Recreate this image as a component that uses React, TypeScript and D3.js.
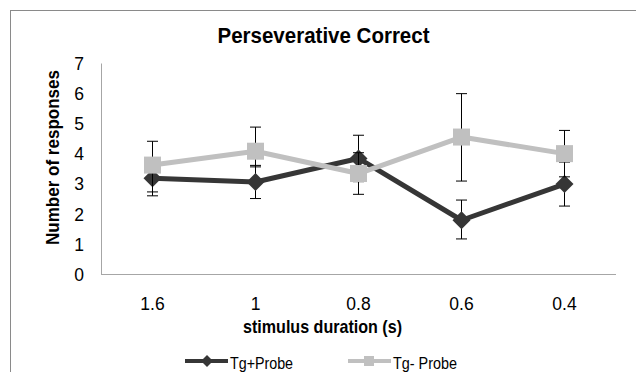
import React from "react";
import * as d3 from "d3";

const categories = ["1.6", "1", "0.8", "0.6", "0.4"];
const yTicks = [0, 1, 2, 3, 4, 5, 6, 7];

const tgPlus = [3.19, 3.07, 3.85, 1.8, 3.0];
const tgPlusLow = [2.61, 2.52, 3.08, 1.18, 2.27];
const tgPlusHigh = [3.77, 3.62, 4.62, 2.47, 3.73];

const tgMinus = [3.63, 4.09, 3.35, 4.56, 4.01];
const tgMinusLow = [2.74, 3.57, 2.66, 3.1, 3.24];
const tgMinusHigh = [4.42, 4.89, 4.04, 6.0, 4.78];

const seriesNames = ["Tg+Probe", "Tg- Probe"];

const W = 636;
const H = 372;
const FONT = "'Liberation Sans', Arial, sans-serif";
const DARK = "#363636";
const LIGHT = "#c0c0c0";

export default function App() {
  const x = d3.scaleBand<string>().domain(categories).range([101, 616]);
  const y = d3.scaleLinear().domain([0, 7]).range([274.5, 63.5]);
  const cx = (c: string) => (x(c) as number) + x.bandwidth() / 2;

  const line = d3
    .line<number>()
    .x((_, i) => cx(categories[i]))
    .y((v) => y(v));

  const diamond = (px: number, py: number, r: number) =>
    `M${px},${py - r}L${px + r},${py}L${px},${py + r}L${px - r},${py}Z`;

  const errBars = (low: number[], high: number[], key: string) =>
    categories.map((c, i) => {
      const px = cx(c);
      const y1 = y(high[i]);
      const y2 = y(low[i]);
      return (
        <g key={key + i} stroke="#000" strokeWidth={1}>
          <line x1={px} x2={px} y1={y1} y2={y2} />
          <line x1={px - 5.5} x2={px + 5.5} y1={y1} y2={y1} />
          <line x1={px - 5.5} x2={px + 5.5} y1={y2} y2={y2} />
        </g>
      );
    });

  return (
    <svg
      width={W}
      height={H}
      style={{ position: "absolute", left: 0, top: 0, background: "#fff" }}
      fontFamily={FONT}
    >
      <rect x={0} y={0} width={W} height={H} fill="#fff" />
      {/* outer frame */}
      <line x1={10.5} x2={10.5} y1={10} y2={H} stroke="#8a8a8a" />
      <line x1={10} x2={W} y1={10.5} y2={10.5} stroke="#8a8a8a" />

      {/* title */}
      <text
        x={323.5}
        y={42.5}
        textAnchor="middle"
        fontSize={22}
        fontWeight="bold"
        textLength={212}
        lengthAdjust="spacingAndGlyphs"
      >
        Perseverative Correct
      </text>

      {/* axes */}
      <line x1={101.5} x2={101.5} y1={y(7)} y2={y(0)} stroke="#a6a6a6" />
      <line x1={101} x2={616} y1={y(0)} y2={y(0)} stroke="#a6a6a6" />

      {yTicks.map((t) => (
        <text key={"yt" + t} x={84} y={y(t) + 6.3} textAnchor="end" fontSize={17.5}>
          {t}
        </text>
      ))}
      {categories.map((c) => (
        <text key={"xt" + c} x={cx(c)} y={310} textAnchor="middle" fontSize={17.5}>
          {c}
        </text>
      ))}

      <text
        x={322.5}
        y={333}
        textAnchor="middle"
        fontSize={19}
        fontWeight="bold"
        textLength={159}
        lengthAdjust="spacingAndGlyphs"
      >
        stimulus duration (s)
      </text>
      <text
        transform={`translate(59,157.5) rotate(-90)`}
        textAnchor="middle"
        fontSize={19}
        fontWeight="bold"
        textLength={175}
        lengthAdjust="spacingAndGlyphs"
      >
        Number of responses
      </text>

      {/* Tg+Probe */}
      {errBars(tgPlusLow, tgPlusHigh, "ep")}
      <path d={line(tgPlus) || ""} fill="none" stroke={DARK} strokeWidth={5} strokeLinejoin="round" />
      {categories.map((c, i) => (
        <path key={"d" + i} d={diamond(cx(c), y(tgPlus[i]), 9)} fill={DARK} />
      ))}

      {/* Tg- Probe */}
      {errBars(tgMinusLow, tgMinusHigh, "em")}
      <path d={line(tgMinus) || ""} fill="none" stroke={LIGHT} strokeWidth={5} strokeLinejoin="round" />
      {categories.map((c, i) => (
        <rect
          key={"s" + i}
          x={cx(c) - 8.5}
          y={y(tgMinus[i]) - 8.5}
          width={17}
          height={17}
          fill={LIGHT}
        />
      ))}

      {/* legend */}
      <line x1={185} x2={228} y1={361} y2={361} stroke={DARK} strokeWidth={4} />
      <path d={diamond(207, 361, 6)} fill={DARK} />
      <text x={230} y={369} fontSize={17} textLength={63} lengthAdjust="spacingAndGlyphs">
        {seriesNames[0]}
      </text>
      <line x1={348} x2={391} y1={361} y2={361} stroke={LIGHT} strokeWidth={4} />
      <rect x={364} y={356} width={10} height={10} fill={LIGHT} />
      <text x={393} y={369} fontSize={17} textLength={64} lengthAdjust="spacingAndGlyphs">
        {seriesNames[1]}
      </text>
    </svg>
  );
}
